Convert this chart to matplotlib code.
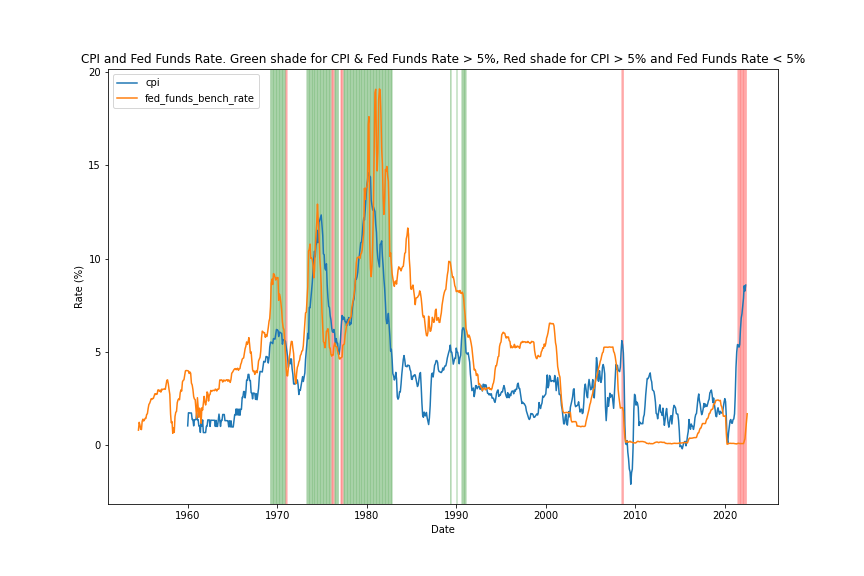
import matplotlib
matplotlib.use('Agg')
import matplotlib.pyplot as plt
import matplotlib.dates as mdates
import pandas as pd

# Fed funds rate, monthly, from Jul 1954
ff_1950s = [
    0.80, 1.22, 1.07, 0.85, 0.83, 1.28,
    1.39, 1.29, 1.35, 1.43, 1.43, 1.64, 1.68, 1.96, 2.18, 2.24, 2.35, 2.48,
    2.45, 2.50, 2.50, 2.62, 2.75, 2.71, 2.75, 2.73, 2.95, 2.96, 2.88, 2.94,
    2.84, 3.00, 2.96, 3.00, 3.00, 3.00, 2.99, 3.24, 3.47, 3.50, 3.28, 2.98,
    2.72, 1.67, 1.20, 1.26, 0.63, 0.93, 0.68, 1.53, 1.76, 1.80, 2.27, 2.42,
    2.48, 2.43, 2.80, 2.96, 2.90, 3.39, 3.47, 3.50, 3.76, 3.98, 4.00, 3.99,
]
ff_1960s = [
    3.99, 3.97, 3.84, 3.92, 3.85, 3.32, 3.23, 2.98, 2.60, 2.47, 2.44, 1.98,
    1.45, 2.54, 2.02, 1.49, 1.98, 1.73, 1.17, 2.00, 1.88, 2.26, 2.61, 2.33,
    2.15, 2.37, 2.85, 2.78, 2.36, 2.68, 2.71, 2.93, 2.90, 2.90, 2.94, 2.93,
    2.92, 3.00, 2.98, 2.90, 3.00, 2.99, 3.02, 3.49, 3.48, 3.50, 3.48, 3.38,
    3.48, 3.48, 3.43, 3.47, 3.50, 3.50, 3.42, 3.50, 3.45, 3.36, 3.52, 3.85,
    3.90, 3.98, 4.04, 4.09, 4.10, 4.04, 4.09, 4.12, 4.01, 4.08, 4.10, 4.32,
    4.42, 4.60, 4.65, 4.67, 4.90, 5.17, 5.30, 5.53, 5.40, 5.53, 5.76, 5.40,
    4.94, 5.00, 4.53, 4.05, 3.94, 3.98, 3.79, 3.90, 3.99, 3.88, 4.13, 4.51,
    4.61, 4.71, 5.05, 5.76, 6.11, 6.07, 6.02, 6.03, 5.78, 5.91, 5.82, 6.02,
    6.30, 6.64, 6.79, 7.41, 8.67, 8.90, 8.61, 9.19, 9.15, 9.00, 8.85, 8.97,
]
ff_1970s = [
    8.98, 8.98, 7.76, 8.10, 7.95, 7.61, 7.21, 6.61, 6.29, 6.20, 5.60, 4.90,
    4.14, 3.72, 3.71, 4.16, 4.63, 4.91, 5.31, 5.56, 5.55, 5.20, 4.91, 4.14,
    3.50, 3.29, 3.83, 4.17, 4.27, 4.46, 4.55, 4.80, 4.87, 5.04, 5.06, 5.33,
    5.94, 6.58, 7.09, 7.12, 7.84, 8.49, 10.40, 10.50, 10.78, 10.01, 10.03, 9.95,
    9.65, 8.97, 9.35, 10.51, 11.31, 11.93, 12.92, 12.01, 11.34, 10.06, 9.45, 8.53,
    7.13, 6.24, 5.54, 5.49, 5.22, 5.55, 6.10, 6.14, 6.24, 5.82, 5.22, 5.20,
    4.87, 4.77, 4.84, 4.82, 5.29, 5.48, 5.31, 5.29, 5.25, 5.02, 4.95, 4.65,
    4.61, 4.68, 4.69, 4.73, 5.35, 5.39, 5.42, 5.90, 6.14, 6.47, 6.51, 6.56,
    6.70, 6.78, 6.79, 6.89, 7.36, 7.60, 7.81, 8.04, 8.45, 8.96, 9.76, 10.03,
    10.07, 10.06, 10.09, 10.01, 10.24, 10.29, 10.47, 10.94, 11.43, 13.77, 13.18, 13.78,
]
ff_1980s = [
    13.82, 14.13, 17.19, 17.61, 10.98, 9.47, 9.03, 9.61, 10.87, 12.81, 15.85, 18.90,
    19.08, 15.93, 14.70, 15.72, 18.52, 19.10, 19.04, 17.82, 15.87, 15.08, 13.31, 12.37,
    13.22, 14.78, 14.68, 14.94, 14.45, 14.15, 12.59, 10.12, 10.31, 9.71, 9.20, 8.95,
    8.68, 8.51, 8.77, 8.80, 8.63, 8.98, 9.37, 9.56, 9.45, 9.48, 9.34, 9.47,
    9.56, 9.59, 9.91, 10.29, 10.32, 11.06, 11.23, 11.64, 11.30, 9.99, 9.43, 8.38,
    8.35, 8.50, 8.58, 8.27, 7.97, 7.53, 7.88, 7.90, 7.92, 7.99, 8.05, 8.27,
    8.14, 7.86, 7.48, 6.99, 6.85, 6.92, 6.56, 6.17, 5.89, 5.85, 6.04, 6.91,
    6.43, 6.10, 6.13, 6.37, 6.85, 6.73, 6.58, 6.73, 7.22, 7.29, 6.69, 6.77,
    6.83, 6.58, 6.58, 6.87, 7.09, 7.51, 7.75, 8.01, 8.19, 8.30, 8.35, 8.76,
    9.12, 9.36, 9.85, 9.84, 9.81, 9.53, 9.24, 8.99, 9.02, 8.84, 8.55, 8.45,
]
ff_1990s = [
    8.23, 8.24, 8.28, 8.26, 8.18, 8.29, 8.15, 8.13, 8.20, 8.11, 7.81, 7.31,
    6.91, 6.25, 6.12, 5.91, 5.78, 5.90, 5.82, 5.66, 5.45, 5.21, 4.81, 4.43,
    4.03, 4.06, 3.98, 3.73, 3.82, 3.76, 3.25, 3.30, 3.22, 3.10, 3.09, 2.92,
    3.02, 3.03, 3.07, 2.96, 3.00, 3.04, 3.06, 3.03, 3.09, 2.99, 3.02, 2.96,
    3.05, 3.25, 3.34, 3.56, 4.01, 4.25, 4.26, 4.47, 4.73, 4.76, 5.29, 5.45,
    5.53, 5.92, 5.98, 6.05, 6.01, 6.00, 5.85, 5.74, 5.80, 5.76, 5.80, 5.60,
    5.56, 5.22, 5.31, 5.22, 5.24, 5.27, 5.40, 5.22, 5.30, 5.24, 5.31, 5.29,
    5.25, 5.19, 5.39, 5.51, 5.50, 5.56, 5.52, 5.54, 5.54, 5.50, 5.52, 5.50,
    5.56, 5.51, 5.49, 5.45, 5.49, 5.56, 5.54, 5.55, 5.51, 5.07, 4.83, 4.68,
    4.63, 4.76, 4.81, 4.74, 4.74, 4.76, 4.99, 5.07, 5.22, 5.20, 5.42, 5.30,
]
ff_2000s = [
    5.45, 5.73, 5.85, 6.02, 6.27, 6.53, 6.54, 6.50, 6.52, 6.51, 6.51, 6.40,
    5.98, 5.49, 5.31, 4.80, 4.21, 3.97, 3.77, 3.65, 3.07, 2.49, 2.09, 1.82,
    1.73, 1.74, 1.73, 1.75, 1.75, 1.75, 1.73, 1.74, 1.75, 1.75, 1.34, 1.24,
    1.24, 1.26, 1.25, 1.26, 1.26, 1.22, 1.01, 1.03, 1.01, 1.01, 1.00, 0.98,
    1.00, 1.01, 1.00, 1.00, 1.00, 1.03, 1.26, 1.43, 1.61, 1.76, 1.93, 2.16,
    2.28, 2.50, 2.63, 2.79, 3.00, 3.04, 3.26, 3.50, 3.62, 3.78, 4.00, 4.16,
    4.29, 4.49, 4.59, 4.79, 4.94, 4.99, 5.24, 5.25, 5.25, 5.25, 5.25, 5.24,
    5.25, 5.26, 5.26, 5.25, 5.25, 5.25, 5.26, 5.02, 4.94, 4.76, 4.49, 4.24,
    3.94, 2.98, 2.61, 2.28, 1.98, 2.00, 2.01, 2.00, 1.81, 0.97, 0.39, 0.16,
    0.15, 0.22, 0.18, 0.15, 0.18, 0.21, 0.16, 0.16, 0.15, 0.12, 0.12, 0.12,
]
ff_2010s = [
    0.11, 0.13, 0.16, 0.20, 0.20, 0.18, 0.18, 0.19, 0.19, 0.19, 0.19, 0.18,
    0.17, 0.16, 0.14, 0.10, 0.09, 0.09, 0.07, 0.10, 0.08, 0.07, 0.08, 0.07,
    0.08, 0.10, 0.13, 0.14, 0.16, 0.16, 0.16, 0.13, 0.14, 0.16, 0.16, 0.16,
    0.14, 0.15, 0.14, 0.15, 0.11, 0.09, 0.09, 0.08, 0.08, 0.09, 0.08, 0.09,
    0.07, 0.07, 0.08, 0.09, 0.09, 0.10, 0.09, 0.09, 0.09, 0.09, 0.09, 0.12,
    0.11, 0.11, 0.11, 0.12, 0.12, 0.13, 0.13, 0.14, 0.14, 0.12, 0.12, 0.24,
    0.34, 0.38, 0.36, 0.37, 0.37, 0.38, 0.39, 0.40, 0.40, 0.40, 0.41, 0.54,
    0.65, 0.66, 0.79, 0.90, 0.91, 1.04, 1.15, 1.16, 1.15, 1.15, 1.16, 1.30,
    1.41, 1.42, 1.51, 1.69, 1.70, 1.82, 1.91, 1.91, 1.95, 2.19, 2.20, 2.27,
    2.40, 2.40, 2.41, 2.42, 2.39, 2.38, 2.40, 2.13, 2.04, 1.83, 1.55, 1.55,
]
ff_2020s = [
    1.55, 1.58, 0.65, 0.05, 0.05, 0.08, 0.09, 0.10, 0.09, 0.09, 0.09, 0.09,
    0.09, 0.08, 0.07, 0.07, 0.06, 0.08, 0.10, 0.09, 0.08, 0.08, 0.08, 0.08,
    0.08, 0.08, 0.20, 0.33, 0.77, 1.21, 1.68,
]

# CPI year-over-year change (%), monthly, from Jan 1960
cpi_1960s = [
    1.03, 1.73, 1.73, 1.72, 1.72, 1.72, 1.37, 1.37, 1.03, 1.36, 1.36, 1.36,
    1.71, 1.36, 1.36, 1.02, 1.02, 0.68, 1.35, 1.01, 1.35, 0.67, 0.67, 0.67,
    0.67, 1.01, 1.01, 1.35, 1.35, 1.35, 1.00, 1.34, 1.33, 1.33, 1.33, 1.33,
    1.33, 1.00, 1.33, 1.00, 1.00, 1.32, 1.66, 1.32, 1.00, 1.32, 1.32, 1.64,
    1.64, 1.64, 1.31, 1.31, 1.31, 1.31, 1.30, 0.98, 1.30, 0.97, 1.30, 0.97,
    0.97, 0.97, 1.29, 1.62, 1.62, 1.94, 1.61, 1.93, 1.61, 1.93, 1.60, 1.92,
    1.92, 2.56, 2.55, 2.87, 2.87, 2.53, 2.85, 3.48, 3.48, 3.79, 3.79, 3.46,
    3.46, 2.81, 2.80, 2.48, 2.79, 2.78, 2.77, 2.45, 2.75, 2.43, 2.74, 3.04,
    3.65, 3.95, 3.94, 3.93, 3.92, 4.20, 4.49, 4.47, 4.46, 4.75, 4.74, 4.72,
    4.40, 4.68, 5.25, 5.52, 5.51, 5.48, 5.44, 5.71, 5.70, 5.68, 5.93, 6.20,
]
cpi_1970s = [
    6.18, 6.15, 5.82, 6.06, 6.04, 6.01, 5.98, 5.41, 5.66, 5.63, 5.60, 5.57,
    5.29, 5.00, 4.71, 4.16, 4.40, 4.64, 4.36, 4.62, 4.08, 3.80, 3.28, 3.27,
    3.27, 3.51, 3.50, 3.49, 3.23, 2.71, 2.95, 2.94, 3.19, 3.42, 3.67, 3.41,
    3.65, 3.87, 4.59, 5.06, 5.53, 5.99, 5.70, 7.38, 7.36, 7.80, 8.25, 8.71,
    9.39, 10.02, 10.39, 10.09, 10.71, 10.86, 11.51, 10.86, 11.95, 12.06, 12.20, 12.34,
    11.80, 11.23, 10.25, 10.21, 9.47, 9.39, 9.72, 8.60, 7.91, 7.44, 7.38, 6.94,
    6.72, 6.29, 6.07, 6.05, 6.20, 5.97, 5.35, 5.71, 5.49, 5.46, 4.88, 4.86,
    5.22, 5.91, 6.44, 6.95, 6.73, 6.87, 6.83, 6.62, 6.60, 6.39, 6.72, 6.70,
    6.84, 6.43, 6.55, 6.50, 6.97, 7.41, 7.70, 7.84, 8.31, 8.93, 8.89, 9.02,
    9.28, 9.86, 10.09, 10.49, 10.85, 10.89, 11.26, 11.82, 12.18, 12.07, 12.61, 13.29,
]
cpi_1980s = [
    13.91, 14.18, 14.60, 14.55, 14.41, 14.38, 13.13, 12.87, 12.60, 12.77, 12.65, 12.52,
    11.83, 11.41, 10.49, 10.00, 9.78, 9.55, 10.76, 10.80, 10.95, 10.14, 9.59, 8.92,
    8.39, 7.62, 6.78, 6.51, 6.68, 7.06, 6.44, 5.85, 5.04, 5.14, 4.59, 3.83,
    3.71, 3.49, 3.60, 3.90, 3.55, 2.58, 2.46, 2.56, 2.86, 2.85, 3.27, 3.79,
    4.19, 4.60, 4.80, 4.56, 4.23, 4.22, 4.20, 4.29, 4.27, 4.26, 4.05, 3.95,
    3.53, 3.52, 3.70, 3.69, 3.77, 3.76, 3.55, 3.35, 3.14, 3.23, 3.51, 3.80,
    3.89, 3.11, 2.26, 1.59, 1.49, 1.77, 1.58, 1.57, 1.75, 1.47, 1.28, 1.10,
    1.46, 2.10, 3.03, 3.78, 3.86, 3.65, 3.93, 4.28, 4.36, 4.53, 4.53, 4.43,
    4.05, 3.94, 3.93, 3.90, 3.89, 3.96, 4.13, 4.02, 4.17, 4.25, 4.25, 4.42,
    4.67, 4.83, 4.98, 5.11, 5.36, 4.98, 4.98, 4.71, 4.34, 4.49, 4.66, 4.65,
]
cpi_1990s = [
    5.20, 4.98, 4.97, 4.71, 4.36, 4.67, 4.82, 5.62, 6.16, 6.29, 6.27, 6.11,
    5.65, 4.98, 4.90, 4.89, 4.95, 4.70, 4.45, 3.80, 3.39, 2.92, 2.99, 3.06,
    2.60, 2.82, 3.19, 3.18, 3.02, 3.09, 3.16, 3.15, 2.99, 3.20, 3.05, 2.90,
    3.26, 3.25, 3.09, 3.23, 3.22, 3.00, 2.78, 2.77, 2.69, 2.75, 2.68, 2.75,
    2.52, 2.52, 2.51, 2.36, 2.29, 2.49, 2.77, 2.90, 2.96, 2.61, 2.67, 2.67,
    2.80, 2.86, 2.85, 3.05, 3.19, 3.04, 2.76, 2.62, 2.54, 2.81, 2.61, 2.54,
    2.73, 2.65, 2.84, 2.90, 2.89, 2.75, 2.95, 2.88, 3.00, 2.99, 3.26, 3.32,
    3.04, 3.03, 2.76, 2.50, 2.23, 2.30, 2.23, 2.23, 2.15, 2.08, 1.83, 1.70,
    1.57, 1.44, 1.37, 1.44, 1.69, 1.68, 1.68, 1.62, 1.49, 1.49, 1.55, 1.61,
    1.67, 1.61, 1.73, 2.28, 2.09, 1.96, 2.14, 2.26, 2.63, 2.56, 2.62, 2.68,
]
cpi_2000s = [
    2.74, 3.22, 3.76, 3.07, 3.19, 3.73, 3.66, 3.41, 3.45, 3.45, 3.45, 3.39,
    3.73, 3.53, 2.92, 3.27, 3.62, 3.25, 2.72, 2.72, 2.65, 2.13, 1.90, 1.55,
    1.14, 1.14, 1.48, 1.64, 1.18, 1.07, 1.46, 1.80, 1.51, 2.03, 2.20, 2.38,
    2.60, 2.98, 3.02, 2.22, 2.06, 2.11, 2.11, 2.16, 2.32, 2.04, 1.77, 1.88,
    1.93, 1.69, 1.74, 2.29, 3.05, 3.27, 2.99, 2.65, 2.54, 3.19, 3.52, 3.26,
    2.97, 3.01, 3.15, 3.51, 2.80, 2.53, 3.17, 3.64, 4.69, 4.35, 3.46, 3.42,
    3.99, 3.60, 3.36, 3.55, 4.17, 4.32, 4.15, 3.82, 2.06, 1.31, 1.97, 2.54,
    2.08, 2.42, 2.78, 2.57, 2.69, 2.69, 2.36, 1.97, 2.76, 3.54, 4.31, 4.08,
    4.28, 4.03, 3.98, 3.94, 4.18, 5.02, 5.60, 5.37, 4.94, 3.66, 1.07, 0.09,
    0.03, 0.24, -0.38, -0.74, -1.28, -1.43, -2.10, -1.48, -1.29, -0.18, 1.84, 2.72,
]
cpi_2010s = [
    2.63, 2.14, 2.31, 2.24, 2.02, 1.05, 1.24, 1.15, 1.14, 1.17, 1.14, 1.50,
    1.63, 2.11, 2.68, 3.16, 3.57, 3.56, 3.63, 3.77, 3.87, 3.53, 3.39, 2.96,
    2.93, 2.87, 2.65, 2.30, 1.70, 1.66, 1.41, 1.69, 1.99, 2.16, 1.76, 1.74,
    1.59, 1.98, 1.47, 1.06, 1.36, 1.75, 1.96, 1.52, 1.18, 0.96, 1.24, 1.50,
    1.58, 1.13, 1.51, 1.95, 2.13, 2.07, 1.99, 1.70, 1.66, 1.66, 1.32, 0.76,
    -0.09, -0.03, -0.07, -0.20, -0.04, 0.12, 0.17, 0.20, -0.04, 0.17, 0.50, 0.73,
    1.37, 1.02, 0.85, 1.13, 1.02, 1.01, 0.84, 1.06, 1.46, 1.64, 1.69, 2.07,
    2.50, 2.74, 2.38, 2.20, 1.87, 1.63, 1.73, 1.94, 2.23, 2.04, 2.20, 2.11,
    2.07, 2.21, 2.36, 2.46, 2.80, 2.87, 2.95, 2.70, 2.28, 2.52, 2.18, 1.91,
    1.55, 1.52, 1.86, 2.00, 1.79, 1.65, 1.81, 1.75, 1.71, 1.76, 2.05, 2.29,
]
cpi_2020s = [
    2.49, 2.33, 1.54, 0.33, 0.12, 0.65, 0.99, 1.31, 1.37, 1.18, 1.17, 1.36,
    1.40, 1.68, 2.62, 4.16, 4.99, 5.39, 5.37, 5.25, 5.39, 6.22, 6.81, 7.04,
    7.48, 7.87, 8.54, 8.26, 8.58,
]

fed_funds = ff_1950s + ff_1960s + ff_1970s + ff_1980s + ff_1990s + ff_2000s + ff_2010s + ff_2020s
cpi = cpi_1960s + cpi_1970s + cpi_1980s + cpi_1990s + cpi_2000s + cpi_2010s + cpi_2020s

ff_dates = pd.date_range('1954-07-01', periods=len(fed_funds), freq='MS')
cpi_dates = pd.date_range('1960-01-01', periods=len(cpi), freq='MS')

fig, ax = plt.subplots(figsize=(12, 8), dpi=72)
fig.subplots_adjust(bottom=0.125)
ax.plot(cpi_dates, cpi, label='cpi')
ax.plot(ff_dates, fed_funds, label='fed_funds_bench_rate')

df = pd.DataFrame({'cpi': pd.Series(cpi, index=cpi_dates),
                   'ff': pd.Series(fed_funds, index=ff_dates)}).dropna()
for d, row in df.iterrows():
    end = d + pd.DateOffset(months=1)
    if row['cpi'] > 5 and row['ff'] > 5:
        ax.axvspan(d, end, color='green', alpha=0.13)
    elif row['cpi'] > 5 and row['ff'] < 5:
        ax.axvspan(d, end, color='red', alpha=0.13)

ax.xaxis.set_major_locator(mdates.YearLocator(10))
ax.xaxis.set_major_formatter(mdates.DateFormatter('%Y'))
ax.set_title('CPI and Fed Funds Rate. Green shade for CPI & Fed Funds Rate > 5%, '
             'Red shade for CPI > 5% and Fed Funds Rate < 5%')
ax.set_xlabel('Date')
ax.set_ylabel('Rate (%)')
ax.legend(loc='upper left')
fig.savefig('out.png', dpi=72)
